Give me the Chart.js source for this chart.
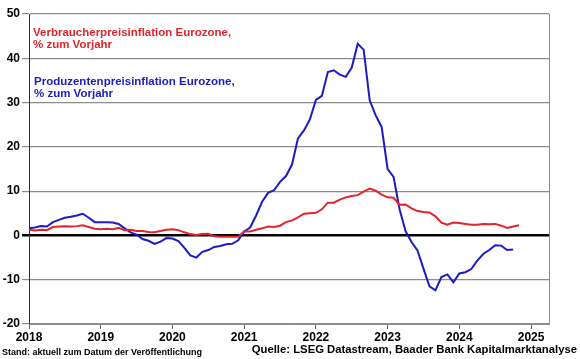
<!DOCTYPE html>
<html>
<head>
<meta charset="utf-8">
<script src="https://cdn.jsdelivr.net/npm/chart.js@4.4.0/dist/chart.umd.min.js"></script>
<style>
  body { margin: 0; background: #fff; }
  #wrap { position: relative; width: 580px; height: 359px; font-family: Arial, "Liberation Sans", sans-serif; }
  #chart { position: absolute; left: 0; top: 0; }
  .note { position: absolute; font-weight: bold; white-space: nowrap; }
  #cpiNote { left: 33px; top: 26px; color: #e3242b; font-size: 11.5px; line-height: 12px; }
  #ppiNote { left: 34px; top: 75px; color: #1c1cc4; font-size: 11.5px; line-height: 12.3px; }
  #stand { left: 2px; top: 347px; font-size: 9px; color: #000; }
  #quelle { right: 3px; top: 343px; font-size: 11.3px; color: #000; }
</style>
</head>
<body>
<div id="wrap">
  <canvas id="chart" width="580" height="359"></canvas>
  <div class="note" id="cpiNote">Verbraucherpreisinflation Eurozone,<br>% zum Vorjahr</div>
  <div class="note" id="ppiNote">Produzentenpreisinflation Eurozone,<br>% zum Vorjahr</div>
  <div class="note" id="stand">Stand: aktuell zum Datum der Veröffentlichung</div>
  <div class="note" id="quelle">Quelle: LSEG Datastream, Baader Bank Kapitalmarktanalyse</div>
</div>
<script>
// monthly series, first value = Jan 2018
const startYear = 2018;
const yearTicks = [2018, 2019, 2020, 2021, 2022, 2023, 2024, 2025];

// Verbraucherpreise Eurozone, % yoy (Jan 2018 - Nov 2024)
const cpi = [
    1.3, 1.1, 1.3, 1.2, 1.9, 2.0, 2.1, 2.0, 2.1, 2.3, 1.9, 1.5,
    1.4, 1.5, 1.4, 1.7, 1.2, 1.3, 1.0, 1.0, 0.8, 0.7, 1.0, 1.3,
    1.4, 1.2, 0.7, 0.3, 0.1, 0.3, 0.4, -0.2, -0.3, -0.3, -0.3, -0.3,
    0.9, 0.9, 1.3, 1.6, 2.0, 1.9, 2.2, 3.0, 3.4, 4.1, 4.9, 5.0,
    5.1, 5.9, 7.4, 7.4, 8.1, 8.6, 8.9, 9.1, 9.9, 10.6, 10.1, 9.2,
    8.6, 8.5, 6.9, 7.0, 6.1, 5.5, 5.3, 5.2, 4.3, 2.9, 2.4, 2.9,
    2.8, 2.6, 2.4, 2.4, 2.6, 2.5, 2.6, 2.2, 1.7, 2.0, 2.3
];

// Produzentenpreise Eurozone, % yoy (Jan 2018 - Oct 2024)
const ppi = [
    1.6, 1.8, 2.1, 2.0, 3.0, 3.5, 4.0, 4.2, 4.5, 4.9, 4.0, 3.0,
    3.0, 3.0, 2.9, 2.6, 1.6, 0.7, 0.2, -0.8, -1.2, -1.9, -1.4, -0.6,
    -0.7, -1.3, -2.8, -4.5, -5.0, -3.7, -3.3, -2.6, -2.4, -2.0, -1.9, -1.1,
    0.9, 1.8, 4.5, 7.6, 9.6, 10.2, 12.1, 13.4, 16.0, 21.9, 23.7, 26.2,
    30.6, 31.5, 36.9, 37.3, 36.3, 35.8, 37.9, 43.3, 41.9, 30.5, 27.1, 24.5,
    15.0, 13.2, 5.9, 1.0, -1.5, -3.4, -7.5, -11.5, -12.4, -9.4, -8.8, -10.6,
    -8.6, -8.3, -7.6, -5.7, -4.2, -3.3, -2.2, -2.3, -3.3, -3.2
];

function toPoints(values) {
    return values.map((v, i) => ({ x: startYear + i / 12, y: v }));
}

// right frame line of the plot area
const frame = {
    id: 'frame',
    afterDraw(chart) {
        const a = chart.chartArea;
        const ctx = chart.ctx;
        ctx.save();
        ctx.strokeStyle = '#8c8c8c';
        ctx.lineWidth = 1;
        ctx.beginPath();
        ctx.moveTo(a.right + 0.5, a.top);
        ctx.lineTo(a.right + 0.5, a.bottom);
        ctx.stroke();
        ctx.restore();
    }
};

const ctx = document.getElementById('chart').getContext('2d');
const chart = new Chart(ctx, {
    type: 'line',
    data: {
        datasets: [{
            label: 'Verbraucherpreisinflation Eurozone',
            data: toPoints(cpi),
            borderColor: '#e3242b',
            borderWidth: 2,
            pointRadius: 0,
            tension: 0,
            fill: false
        }, {
            label: 'Produzentenpreisinflation Eurozone',
            data: toPoints(ppi),
            borderColor: '#1c1cc4',
            borderWidth: 2,
            pointRadius: 0,
            tension: 0,
            fill: false
        }]
    },
    options: {
        responsive: false,
        animation: false,
        layout: { padding: { top: 14, right: 31, left: 0, bottom: 0 } },
        plugins: {
            legend: { display: false },
            tooltip: { enabled: false }
        },
        scales: {
            x: {
                type: 'linear',
                min: 2018,
                max: 2025.25,
                afterFit: s => { s.height = 35; },
                afterBuildTicks: s => { s.ticks = yearTicks.map(v => ({ value: v })); },
                ticks: {
                    includeBounds: false,
                    autoSkip: false,
                    maxRotation: 0,
                    padding: 1,
                    color: '#000',
                    font: { family: 'Arial, "Liberation Sans"', size: 12, weight: 'bold' },
                    callback: v => String(v)
                },
                grid: { drawOnChartArea: false, drawTicks: true, tickLength: 5, color: '#666' },
                border: { color: '#8c8c8c', width: 1 }
            },
            y: {
                min: -20,
                max: 50,
                afterFit: s => { s.width = 29; },
                ticks: {
                    stepSize: 10,
                    padding: 2,
                    color: '#000',
                    font: { family: 'Arial, "Liberation Sans"', size: 12, weight: 'bold' }
                },
                grid: {
                    tickLength: 7,
                    color: c => c.tick && c.tick.value === 0 ? '#000' : '#8c8c8c',
                    lineWidth: c => c.tick && c.tick.value === 0 ? 2.5 : 1.2
                },
                border: { color: '#333', width: 1 }
            }
        }
    },
    plugins: [frame]
});
</script>
</body>
</html>
